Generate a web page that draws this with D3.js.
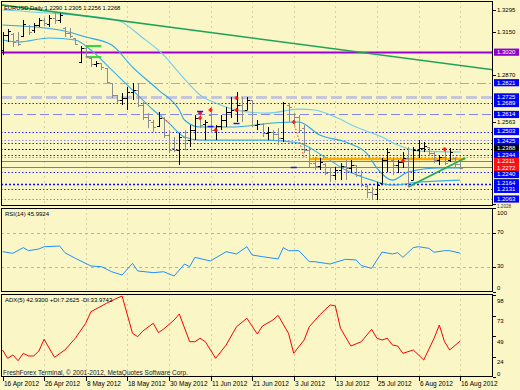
<!DOCTYPE html>
<html><head><meta charset="utf-8">
<script src="https://cdn.jsdelivr.net/npm/d3@7/dist/d3.min.js"></script>
<style>
body{margin:0;background:#fff;}
svg{display:block;}
text{font-family:"Liberation Sans",Arial,sans-serif;}
</style></head>
<body><svg id="c" width="520" height="390"></svg>
<script>
// ---------------- DATA ----------------
const title = "EURUSD,Daily  1.2290 1.2305 1.2256 1.2268";
const tickIdx = [0,8,16,24,32,40,48,56,64,72,80,88];
const tickLabels = ["16 Apr 2012","26 Apr 2012","8 May 2012","18 May 2012","30 May 2012","11 Jun 2012","21 Jun 2012","3 Jul 2012","13 Jul 2012","25 Jul 2012","6 Aug 2012","16 Aug 2012"];

const open = [1.3034,1.3132,1.3138,1.3099,1.3125,1.3191,1.3164,1.3197,1.3230,1.3204,
1.3243,1.3230,1.3177,1.3145,1.3112,1.2956,1.3047,1.2982,1.2943,1.2949,
1.2917,1.2819,1.2741,1.2708,1.2721,1.2760,1.2773,1.2675,1.2597,1.2565,
1.2539,1.2591,1.2480,1.2395,1.2382,1.2467,1.2447,1.2512,1.2591,1.2552,
1.2610,1.2512,1.2539,1.2578,1.2630,1.2643,1.2675,1.2643,1.2708,1.2545,
1.2552,1.2493,1.2499,1.2486,1.2460,1.2675,1.2617,1.2597,1.2525,1.2382,
1.2297,1.2278,1.2291,1.2239,1.2219,1.2252,1.2278,1.2265,1.2284,1.2219,
1.2147,1.2108,1.2095,1.2167,1.2317,1.2317,1.2284,1.2304,1.2330,1.2186,
1.2382,1.2395,1.2402,1.2362,1.2317,1.2336,1.2317,1.2330,1.2290];
const high = [1.3151,1.3171,1.3145,1.3151,1.3230,1.3197,1.3210,1.3243,1.3243,1.3262,
1.3275,1.3275,1.3184,1.3177,1.3112,1.3060,1.3054,1.2982,1.2962,1.2949,
1.2917,1.2819,1.2741,1.2754,1.2793,1.2819,1.2819,1.2695,1.2623,1.2578,
1.2630,1.2597,1.2512,1.2467,1.2493,1.2512,1.2545,1.2610,1.2630,1.2578,
1.2662,1.2545,1.2610,1.2662,1.2728,1.2760,1.2728,1.2728,1.2708,1.2578,
1.2558,1.2532,1.2512,1.2525,1.2695,1.2688,1.2623,1.2610,1.2545,1.2402,
1.2336,1.2330,1.2297,1.2271,1.2271,1.2297,1.2317,1.2317,1.2284,1.2252,
1.2154,1.2141,1.2173,1.2330,1.2395,1.2330,1.2317,1.2369,1.2402,1.2402,
1.2447,1.2434,1.2402,1.2369,1.2349,1.2395,1.2395,1.2336,1.2305];
const low = [1.3001,1.3086,1.3054,1.3060,1.3119,1.3132,1.3145,1.3184,1.3191,1.3184,
1.3204,1.3210,1.3119,1.3112,1.3067,1.2949,1.2988,1.2923,1.2923,1.2904,
1.2819,1.2721,1.2688,1.2675,1.2643,1.2708,1.2662,1.2578,1.2525,1.2499,
1.2532,1.2460,1.2362,1.2369,1.2284,1.2382,1.2402,1.2447,1.2525,1.2447,
1.2493,1.2447,1.2512,1.2532,1.2591,1.2565,1.2565,1.2643,1.2532,1.2512,
1.2467,1.2447,1.2447,1.2415,1.2434,1.2565,1.2545,1.2499,1.2362,1.2271,
1.2252,1.2252,1.2219,1.2173,1.2186,1.2186,1.2186,1.2232,1.2206,1.2141,
1.2069,1.2056,1.2056,1.2167,1.2239,1.2219,1.2232,1.2265,1.2141,1.2186,
1.2330,1.2369,1.2349,1.2297,1.2284,1.2284,1.2304,1.2271,1.2256];
const close = [1.3132,1.3158,1.3086,1.3073,1.3204,1.3151,1.3197,1.3230,1.3210,1.3243,
1.3230,1.3262,1.3145,1.3125,1.3073,1.3047,1.2995,1.2943,1.2949,1.2923,
1.2825,1.2741,1.2708,1.2721,1.2760,1.2773,1.2675,1.2597,1.2578,1.2532,
1.2591,1.2480,1.2382,1.2382,1.2467,1.2447,1.2512,1.2591,1.2545,1.2565,
1.2512,1.2539,1.2578,1.2630,1.2643,1.2675,1.2643,1.2708,1.2545,1.2552,
1.2493,1.2499,1.2486,1.2460,1.2688,1.2662,1.2597,1.2512,1.2382,1.2297,
1.2278,1.2304,1.2232,1.2219,1.2252,1.2278,1.2265,1.2284,1.2219,1.2154,
1.2108,1.2095,1.2154,1.2317,1.2369,1.2284,1.2304,1.2330,1.2154,1.2382,
1.2395,1.2408,1.2362,1.2317,1.2336,1.2297,1.2369,1.2291,1.2268];

// three moving-average style curves (read at sample bars)
const bandUpIdx = [0,11,22,27,31,34,38,41,46,51,57,60,64,68,73,76,80,88];
const bandUpVal = [1.3295,1.3269,1.3230,1.3112,1.3001,1.2884,1.2741,1.2688,1.2636,1.2623,1.2649,1.2643,1.2597,1.2532,1.2467,1.2415,1.2375,1.2369];
const bandMidIdx = [0,11,16,21,25,30,34,35,38,44,52,57,61,66,70,72,75,78,84,88];
const bandMidVal = [1.3197,1.3164,1.3119,1.3067,1.2923,1.2773,1.2643,1.2578,1.2532,1.2532,1.2558,1.2565,1.2480,1.2434,1.2362,1.2265,1.2186,1.2239,1.2265,1.2265];
const bandLoIdx = [0,3,9,14,17,21,25,29,32,35,38,51,57,62,66,71,75,80,88];
const bandLoVal = [1.3099,1.3086,1.3112,1.3099,1.3034,1.2904,1.2773,1.2643,1.2558,1.2467,1.2447,1.2447,1.2428,1.2336,1.2252,1.2186,1.2154,1.2173,1.2186];

// horizontal levels (price) and right-axis boxed labels
const levelVals = [1.3020,1.2821,1.2725,1.2689,1.2614,1.2503,1.2445,1.2430,1.2388,1.2350,1.2338,1.2311,1.2272,1.2240,1.2164,1.2131,1.2063];
const boxVals = [1.3020,1.2821,1.2725,1.2689,1.2614,1.2503,1.2425,1.2388,1.2344,1.2311,1.2272,1.2240,1.2164,1.2131,1.2063];
const plainAxisVals = [1.3295,1.3150,1.2870,1.2563,1.2028];

// trend lines: [idx, price] pairs
const downTrendIdx = [0,88], downTrendVal = [1.3327,1.2934];
const upTrendIdx = [78,89], upTrendVal = [1.2141,1.2330];
const goldIdx = [59,89], goldVal = [1.2323,1.2323];
const greenA_Idx = [16,19], greenA_Val = [1.3060,1.3060];
const greenB_Idx = [16,19], greenB_Val = [1.2988,1.2988];

// markers
const redMarkIdx = [38,38,40,41,45,45,56,77,85];
const redMarkVal = [1.2623,1.2591,1.2643,1.2512,1.2721,1.2643,1.2565,1.2310,1.2388];
const blueMarkIdx = [38,40,45,56];
const blueMarkVal = [1.2636,1.2539,1.2558,1.2271];
const zigIdx1 = [30,33], zigVal1 = [1.2623,1.2525];
const zigIdx2 = [56,58], zigVal2 = [1.2565,1.2336];

// RSI(14)
const rsiIdx = [0,2,4,5,7,8,11,12,14,17,19,21,23,25,26,29,31,33,35,36,37,40,43,45,47,48,50,53,54,55,57,59,60,63,64,66,68,69,71,73,75,76,77,79,80,82,83,85,86,88];
const rsiVal = [47.7,45.8,52.5,48.9,50.9,53.6,54.4,46.5,39.9,30.8,30.0,24.0,20.1,33.9,24.9,22.9,24.0,18.9,33.1,30.0,41.0,36.7,47.7,45.0,53.6,43.8,41.8,39.1,52.5,48.9,48.9,35.9,35.9,33.1,35.1,38.7,37.9,31.2,28.0,47.3,45.0,46.5,41.0,52.5,53.6,51.7,47.0,48.9,48.9,45.99];
const rsiTicks = [100,70,30,0];

// ADX(5)
const adxIdx = [0,1,2,3,4,5,6,7,8,10,12,14,16,17,20,22,23,25,26,27,29,30,31,33,34,36,37,38,39,41,43,45,47,49,50,52,53,55,56,58,59,61,63,64,65,67,69,71,72,73,74,75,76,77,79,81,83,84,85,86,88];
const adxVal = [32.3,22.3,26.3,19.5,28.3,25.1,25.1,31.1,45.1,23.5,32.3,46.3,64.2,78.0,88.1,94.1,96.8,52.2,48.2,55.0,64.2,53.0,57.4,68.1,75.3,42.2,42.2,46.3,42.2,22.3,38.2,60.1,70.2,51.4,61.0,68.1,73.7,52.2,28.3,44.2,60.1,74.1,86.1,84.9,58.2,37.0,42.2,57.0,46.3,44.2,46.3,38.2,37.0,28.3,32.3,20.3,46.3,62.1,42.2,32.3,42.93];
const adxTicks = [98,73,49,24,0];

// ---------------- DRAW ----------------
const svg = d3.select("#c");
const W = 520, H = 390, L = 1, R = 493;
const P = {main:[1,206], rsi:[208,292], adx:[294,377]};
const FS = 6.5, FSA = 6;

svg.append("rect").attr("width",W).attr("height",H).attr("fill","#fbf6c6");

const x = d3.scaleLinear().domain([0,88]).range([2.5,460.1]);
const yM = d3.scaleLinear().domain([1.2024,1.3347]).range([205,2]);
const yR = d3.scaleLinear().domain([0,100]).range([292,207.5]);
const yA = d3.scaleLinear().domain([0,98]).range([377,295]);

const defs = svg.append("defs");
Object.entries(P).forEach(([k,[t,b]])=>{
  defs.append("clipPath").attr("id","clip-"+k).append("rect")
    .attr("x",L).attr("y",t).attr("width",R-L).attr("height",b-t);
});

const gMain = svg.append("g").attr("clip-path","url(#clip-main)");
const gRsi = svg.append("g").attr("clip-path","url(#clip-rsi)");
const gAdx = svg.append("g").attr("clip-path","url(#clip-adx)");

// vertical grid
[[gMain,P.main],[gRsi,P.rsi],[gAdx,P.adx]].forEach(([g,[t,b]])=>{
  g.selectAll(".vg").data(tickIdx.slice(1)).join("line")
    .attr("x1",d=>Math.round(x(d))+0.5).attr("x2",d=>Math.round(x(d))+0.5)
    .attr("y1",t).attr("y2",b).attr("stroke","#d9d3a6").attr("stroke-dasharray","2,3");
});

// levels
const levelStyle = v => {
  const s = {c:"#2424ff",w:1,d:"1.5,2"};
  if (v===1.3020) return {c:"#9a00d0",w:2,d:null};
  if (v===1.2821) return {c:"#a9a9c9",w:1.2,d:"9,3,2,3"};
  if (v===1.2725) return {c:"#c6c6da",w:3,d:"11,4"};
  if (v===1.2614) return {c:"#8585f0",w:1,d:"9,4"};
  if (v===1.2445 || v===1.2338 || v===1.2063) return {c:"#8a8aff",w:1,d:"1.5,2"};
  if (v===1.2388) return {c:"#000",w:1,d:"1.5,2"};
  if (v===1.2311 || v===1.2272) return {c:"#ff4a4a",w:1.2,d:null};
  if (v===1.2164) return {c:"#1010ff",w:1.4,d:"2,2"};
  return s;
};
levelVals.forEach(v=>{
  const st = levelStyle(v);
  gMain.append("line").attr("x1",L).attr("x2",R)
    .attr("y1",Math.round(yM(v))+0.5).attr("y2",Math.round(yM(v))+0.5)
    .attr("stroke",st.c).attr("stroke-width",st.w)
    .attr("stroke-dasharray",st.d);
});

// helper for idx/value lines
const seg = (g, idx, val, color, w, dash, extend) => {
  let pts = idx.map((d,i)=>[x(d), yM(val[i])]);
  if (extend) {
    const [a,b] = pts; const k = (b[1]-a[1])/(b[0]-a[0]);
    pts = [[L, a[1]+(L-a[0])*k],[R, a[1]+(R-a[0])*k]];
  }
  g.append("path").attr("d", d3.line()(pts)).attr("fill","none")
    .attr("stroke",color).attr("stroke-width",w).attr("stroke-dasharray",dash);
};

// curves
const curve = (idx,val,color,w)=>{
  gMain.append("path").datum(idx.map((d,i)=>[d,val[i]]))
    .attr("d", d3.line().x(d=>x(d[0])).y(d=>yM(d[1])).curve(d3.curveMonotoneX))
    .attr("fill","none").attr("stroke",color).attr("stroke-width",w);
};
curve(bandUpIdx,bandUpVal,"#74cdee",1.1);
curve(bandMidIdx,bandMidVal,"#2aa6ec",1.1);
curve(bandLoIdx,bandLoVal,"#3aaee6",1.1);

// gold segment & trend lines
seg(gMain, goldIdx, goldVal, "#ffae00", 2.2, null, false);
seg(gMain, downTrendIdx, downTrendVal, "#1fa35a", 1.6, null, true);
seg(gMain, upTrendIdx, upTrendVal, "#22a85a", 1.8, null, false);
seg(gMain, greenA_Idx, greenA_Val, "#33d633", 2, null, false);
seg(gMain, greenB_Idx, greenB_Val, "#33d633", 2, null, false);
seg(gMain, zigIdx1, zigVal1, "#ff3030", 1, "1.5,2", false);
seg(gMain, zigIdx2, zigVal2, "#ff3030", 1, "1.5,2", false);

// bars
const bars = d3.range(open.length).map(i=>({i,o:open[i],h:high[i],l:low[i],c:close[i]}));
const bg = gMain.append("g").selectAll("g").data(bars).join("g")
  .attr("stroke",d=>d.c>=d.o?"#000":"#8c8c8c").attr("stroke-width",1);
const bx = d=>Math.round(x(d.i))+0.5;
bg.append("line").attr("x1",bx).attr("x2",bx).attr("y1",d=>yM(d.h)).attr("y2",d=>yM(d.l));
bg.append("line").attr("x1",d=>bx(d)-2.5).attr("x2",bx).attr("y1",d=>Math.round(yM(d.o))+0.5).attr("y2",d=>Math.round(yM(d.o))+0.5);
bg.append("line").attr("x1",bx).attr("x2",d=>bx(d)+2.5).attr("y1",d=>Math.round(yM(d.c))+0.5).attr("y2",d=>Math.round(yM(d.c))+0.5);

// markers
redMarkIdx.forEach((d,i)=>{
  const cx=x(d), cy=yM(redMarkVal[i]);
  gMain.append("path").attr("d",`M${cx-2},${cy}H${cx+2}M${cx},${cy-2}V${cy+2}`)
    .attr("stroke","#ff1a1a").attr("stroke-width",1.6);
});
blueMarkIdx.forEach((d,i)=>{
  const cx=x(d), cy=Math.round(yM(blueMarkVal[i]))+0.5;
  gMain.append("line").attr("x1",cx-3).attr("x2",cx+3).attr("y1",cy).attr("y2",cy)
    .attr("stroke","#1515ff").attr("stroke-width",1.5);
});

// RSI
gRsi.selectAll(".lv").data([70,30]).join("line")
  .attr("x1",L).attr("x2",R).attr("y1",d=>Math.round(yR(d))+0.5).attr("y2",d=>Math.round(yR(d))+0.5)
  .attr("stroke","#b9b6a0").attr("stroke-dasharray","3,3");
gRsi.append("path").datum(rsiIdx.map((d,i)=>[d,rsiVal[i]]))
  .attr("d", d3.line().x(d=>x(d[0])).y(d=>yR(d[1])))
  .attr("fill","none").attr("stroke","#1e90ff").attr("stroke-width",1);

// ADX
gAdx.append("path").datum(adxIdx.map((d,i)=>[d,adxVal[i]]))
  .attr("d", d3.line().x(d=>x(d[0])).y(d=>yA(d[1])))
  .attr("fill","none").attr("stroke","#ff0000").attr("stroke-width",1);

// panel frames
Object.values(P).forEach(([t,b])=>{
  svg.append("rect").attr("x",L+0.5).attr("y",t+0.5).attr("width",R-L-1).attr("height",b-t-1)
    .attr("fill","none").attr("stroke","#000").attr("stroke-width",1);
});

// texts
const txt = (s,tx,ty,opts={})=>svg.append("text").attr("x",tx).attr("y",ty)
  .attr("font-size",opts.fs||FS).attr("fill",opts.fill||"#000")
  .attr("dominant-baseline","middle").attr("text-anchor",opts.anchor||"start").text(s);

txt(title,4,8,{fs:5.8});
txt("RSI(14) 45.9924",5,214,{fs:6});
txt("ADX(5) 42.9300 +DI:7.2625 -DI:33.9743",5,300,{fs:6});
txt("FreshForex Terminal, \u00A9 2001-2012, MetaQuotes Software Corp.",3,373,{fill:"#222"});

// main right axis: plain ticks (those hidden behind boxes stay partly visible as in the reference)
const boxY = boxVals.map(v=>yM(v));
// relax boxed label positions symmetrically so adjacent labels keep a minimal gap
const GAP = 6.6;
for (let it=0; it<80; it++){
  for (let i=1;i<boxY.length;i++){
    const d = boxY[i]-boxY[i-1];
    if (d<GAP){ const m=(GAP-d)/2; boxY[i-1]-=m; boxY[i]+=m; }
  }
}
const axM = svg.append("g");
plainAxisVals.forEach(v=>{
  const yy = Math.round(yM(v))+0.5;
  axM.append("line").attr("x1",R).attr("x2",R+3).attr("y1",yy).attr("y2",yy).attr("stroke","#000");
  const near = boxY.some(b=>Math.abs(b-yM(v))<7);
  if (near) {
    // partly hidden label: shown just below the neighbouring box as in the reference
    txt(d3.format(".4f")(v),497,Math.min(yM(v)+3.2, P.main[1]+1),{fs:4.6,fill:"#333"});
  } else {
    txt(d3.format(".4f")(v),497,yM(v),{fs:FSA});
  }
});
// boxed labels
const boxColor = v => v===1.3020?"#9000c8":(v===1.2388?"#000":((v===1.2311||v===1.2272)?"#ff1010":"#0000ff"));
boxVals.forEach((v,i)=>{
  const yy = boxY[i];
  svg.append("rect").attr("x",494).attr("y",yy-3.6).attr("width",25).attr("height",7.2).attr("fill",boxColor(v));
  txt(d3.format(".4f")(v),497,yy+0.3,{fill:"#fff",fs:FSA});
});

// RSI axis
rsiTicks.forEach(v=>{
  const yy = Math.max(P.rsi[0]+5, Math.min(P.rsi[1]-4, yR(v)));
  svg.append("line").attr("x1",R).attr("x2",R+3).attr("y1",Math.round(yR(v))+0.5).attr("y2",Math.round(yR(v))+0.5).attr("stroke","#000");
  txt(String(v),497,yy,{fs:FSA});
});
// ADX axis
adxTicks.forEach(v=>{
  const yy = Math.max(P.adx[0]+4, Math.min(P.adx[1]-3, yA(v)+6));
  svg.append("line").attr("x1",R).attr("x2",R+3).attr("y1",Math.round(yA(v))+0.5).attr("y2",Math.round(yA(v))+0.5).attr("stroke","#000");
  txt(String(v),497,yy,{fs:FSA});
});

// time axis
tickIdx.forEach((d,i)=>{
  const xx = Math.round(x(d))+0.5;
  svg.append("line").attr("x1",xx).attr("x2",xx).attr("y1",P.adx[1]).attr("y2",P.adx[1]+4).attr("stroke","#000");
  txt(tickLabels[i],xx+0.5,384.5);
});
</script></body></html>
